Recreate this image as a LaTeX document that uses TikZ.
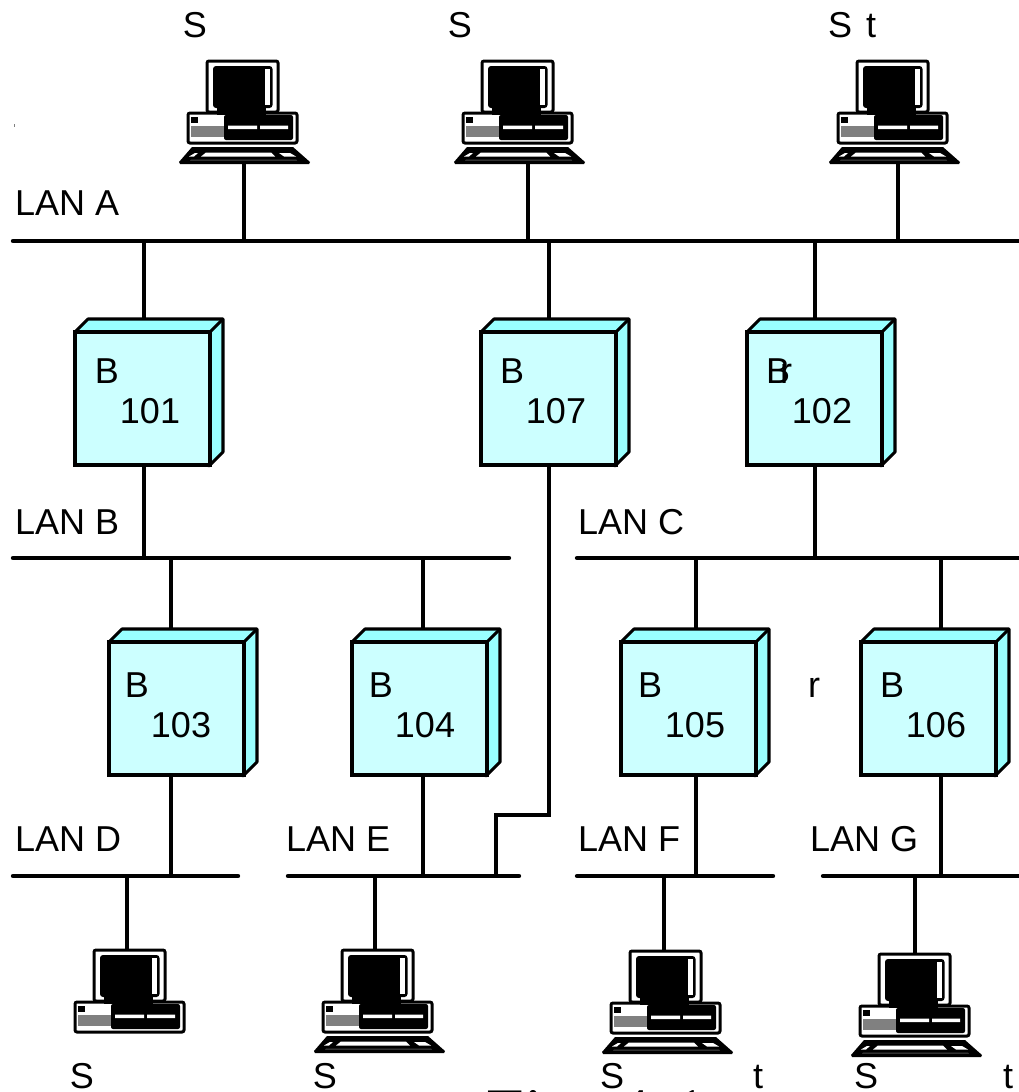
\documentclass[tikz,border=0pt]{standalone}
\usepackage{fontspec}
\setmainfont{Liberation Sans}
\newfontfamily\capfont{Liberation Serif}
\usepackage{xcolor}
\definecolor{brfront}{HTML}{CCFFFF}
\definecolor{brside}{HTML}{99FFFF}
\tikzset{
  wire/.style={line width=3.5pt},
  bus/.style={line width=4.4pt,line cap=round},
  lbl/.style={inner sep=0pt,anchor=base,font=\fontsize{36}{40}\selectfont},
  lanlbl/.style={lbl,anchor=base west},
  pics/pcbody/.style={code={
    \coordinate (-top) at (34.5,0);
    \draw[line width=3pt,fill=white,rounded corners=2pt] (1,1) rectangle (72,52);
    \fill[black,rounded corners=3pt] (7,6) rectangle (66.5,48);
    \fill[white] (58.5,9) rectangle (63.5,45);
    \draw[line width=3pt,fill=white,rounded corners=2pt] (-18,53) rectangle (91,83);
    \fill[black] (11,48) rectangle (60,55);
    \fill[black,rounded corners=2pt] (18,55) rectangle (87,80);
    \fill[white] (22,65.5) rectangle (51,69) (54,65.5) rectangle (82,69);
    \fill[black] (-15,57) rectangle (-8,63);
    \fill[black!50] (-15,66) rectangle (18,76.5);
  }},
  pics/computer/.style={code={
    \pic {pcbody};
    \coordinate (-bot) at (38,103);
    \fill[black] (-14,87) -- (87,87) -- (104,102) -- (103,104) -- (-26,104) -- (-27,102) -- cycle;
    \fill[white] (0,92.5) -- (65,92.5) -- (69,96.5) -- (-5,96.5) -- cycle;
    \fill[white] (-11,93) -- (-8,93) -- (-12,96.5) -- (-17,96.5) -- cycle;
    \fill[white] (73,93) -- (84,93) -- (90,96.5) -- (78,96.5) -- cycle;
    \fill[black!70] (-15,99.5) -- (90,99.5) -- (91,100.5) -- (-16,100.5) -- cycle;
  }},
}
\begin{document}
\begin{tikzpicture}[x=1pt,y=-1pt]
    \useasboundingbox (0,0) rectangle (1019,1092);
    \clip (0,0) rectangle (1019,1092);
    % buses
    \foreach \name/\xa/\xb/\y in {A/13/1021/241,B/13/509/558,C/577/1021/558,D/13/238/876,E/288/519/876,F/577/773/876,G/823/1021/876}{
      \coordinate (lan\name-l) at (\xa,\y);
      \coordinate (lan\name-r) at (\xb,\y);
      \draw[bus] (lan\name-l) -- (lan\name-r);
    }
    \foreach \name/\x/\y in {A/15/215,B/15/534,C/578/534,D/15/851,E/286/851,F/578/851,G/810/851}{
      \node[lanlbl] (lbl\name) at (\x,\y) {LAN \name};
    }
    % bridges
    \foreach \id/\x/\y/\bx/\nx/\by/\ny in {101/75/332/32/75/51/91,107/481/332/31/75/51/91,102/747/332/31/75/51/91,103/109/642/28/72/55/94,104/352/642/29/73/55/94,105/621/642/29/74/55/94,106/861/642/31/75/55/94}{
      \draw[line width=3.1pt,fill=brside,line join=round] (\x,\y) -- ++(13,-13) -- ++(135,0) -- ++(0,133) -- ++(-14,14) -- cycle;
      \draw[line width=3.1pt] (\x+135,\y) -- ++(13,-13);
      \node[draw,line width=3.1pt,fill=brfront,anchor=north west,inner sep=0pt,outer sep=0pt,minimum width=135pt,minimum height=133pt] (br\id) at (\x,\y) {};
      \coordinate (br\id top) at (\x+67,\y-13);
      \node[lbl] (br\id b) at (\x+\bx,\y+\by) {B};
      \node[lbl] (br\id n) at (\x+\nx,\y+\by+40) {\id};
    }
    \node[lbl] (brr) at (786,383) {r};
    \node[lbl] (midr) at (814,697) {r};
    % computers
    \pic (pc1) at (206,60) {computer};
    \pic (pc2) at (481,60) {computer};
    \pic (pc3) at (856,60) {computer};
    \pic (pc4) at (93,949) {pcbody};
    \pic (pc5) at (341,949) {computer};
    \pic (pc6) at (629,950) {computer};
    \pic (pc7) at (878,953) {computer};
    % connectors
    \foreach \t/\pc in {244/pc1,528/pc2,898/pc3}{
      \coordinate (tap\pc) at (\t,241);
      \draw[wire] (tap\pc) -- (tap\pc |- \pc-bot);
    }
    \foreach \t/\pc/\lan in {127/pc4/D,375/pc5/E,664/pc6/F,915/pc7/G}{
      \coordinate (tap\pc) at (\t,876);
      \draw[wire] (tap\pc) -- (tap\pc |- \pc-top);
    }
    \foreach \t/\id in {144/101,549/107,815/102}{
      \coordinate (tapa\id) at (\t,241);
      \draw[wire] (tapa\id) -- (tapa\id |- br\id top);
    }
    \foreach \t/\id in {144/101,815/102}{
      \coordinate (tapb\id) at (\t,558);
      \draw[wire] (tapb\id) -- (tapb\id |- br\id.south);
    }
    \foreach \t/\id in {171/103,423/104,696/105,941/106}{
      \coordinate (tapu\id) at (\t,558);
      \coordinate (tapd\id) at (\t,876);
      \draw[wire] (tapu\id) -- (tapu\id |- br\id top);
      \draw[wire] (tapd\id) -- (tapd\id |- br\id.south);
    }
    \coordinate (elbow) at (549,815);
    \coordinate (tapE) at (496,876);
    \draw[wire,line join=miter] (elbow |- br107.south) -- (elbow) -- (tapE |- elbow) -- (tapE);
    % station labels
    \foreach \x/\y/\lab/\nm in {195/37/S/sa,460/37/S/sb,840/37/S/sc,871/37/t/td,82/1088/S/se,325/1088/S/sf,612/1088/S/sg,866/1088/S/sh,758/1088/t/ti,1008/1088/t/tj}{
      \node[lbl] (\nm) at (\x,\y) {\lab};
    }
    \fill[black!50] (13.5,124) rectangle (15,126.5);
    \node[inner sep=0pt,anchor=base west,font=\capfont\fontsize{68}{70}\selectfont] (figcap) at (486,1135) {Fig. 4-1};
  \end{tikzpicture}
\end{document}
